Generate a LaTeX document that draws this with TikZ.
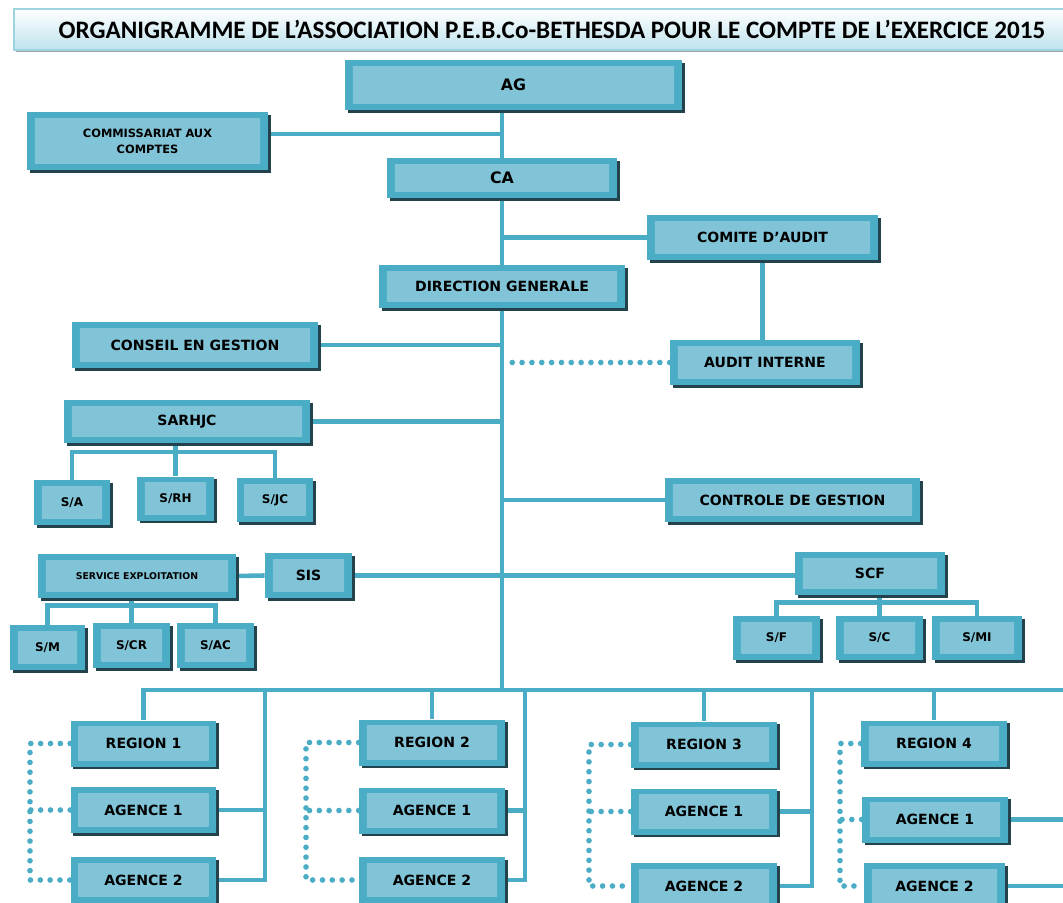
\documentclass[tikz,border=0pt]{standalone}
\usepackage{fontspec}
\setmainfont{Carlito}
\newfontfamily\boxfont{DejaVu Sans}
\usepackage{tikz}
\usetikzlibrary{shadows,backgrounds}

\definecolor{boxblue}{HTML}{4BACC6}
\definecolor{boxlight}{HTML}{82C4D7}
\definecolor{shadowc}{HTML}{23424B}
\definecolor{titleedge}{HTML}{9ED3E2}
\definecolor{titlebot}{HTML}{BDE2EC}

\tikzset{
  box/.style = {fill=boxblue, align=center, inner sep=0pt,
    font=\boxfont\bfseries\fontsize{8}{9}\selectfont,
    drop shadow={shadow xshift=1.6pt, shadow yshift=-1.6pt, fill=shadowc, opacity=1},
    path picture={\shade[top color=boxlight, middle color=boxblue, bottom color=boxlight]
      ([xshift=4.5pt,yshift=-3.5pt]path picture bounding box.north west) rectangle
      ([xshift=-4.5pt,yshift=3.5pt]path picture bounding box.south east);}},
  small/.style = {box, minimum width=1.54cm, minimum height=0.88cm,
    font=\boxfont\bfseries\fontsize{6.8}{7}\selectfont},
  reg/.style = {box, minimum width=2.92cm, minimum height=0.92cm},
  titlebox/.style = {draw=titleedge, line width=0.8pt, top color=white, bottom color=titlebot,
    minimum width=21.22cm, minimum height=0.82cm, inner sep=0pt,
    font=\bfseries\fontsize{14.3}{16}\selectfont,
    drop shadow={shadow xshift=1pt, shadow yshift=-1pt, fill=black!35, opacity=1}},
  link/.style = {draw=boxblue, line width=2.6pt},
  dots/.style = {draw=boxblue, line width=3.2pt, line cap=round, dash pattern=on 0pt off 5.6pt}
}

\begin{document}
\begin{tikzpicture}[x=0.02cm, y=-0.02cm]
    \useasboundingbox (0,0) rectangle (1063,903);

    \node[titlebox] (T) at (544.5,29.5) {\hspace*{0.3cm}ORGANIGRAMME DE L’ASSOCIATION P.E.B.Co-BETHESDA POUR LE COMPTE DE L’EXERCICE 2015};

    % top of the chart
    \node[box, minimum width=6.74cm, minimum height=1cm, font=\boxfont\bfseries\fontsize{9}{10}\selectfont] (AG) at (513.5,85) {AG};
    \node[box, minimum width=4.82cm, minimum height=1.16cm, font=\boxfont\bfseries\fontsize{6.5}{9}\selectfont] (CAC) at (147.5,141) {COMMISSARIAT AUX\\COMPTES};
    \node[box, minimum width=4.6cm, minimum height=0.8cm, font=\boxfont\bfseries\fontsize{9}{10}\selectfont] (CA) at (502,178) {CA};
    \node[box, minimum width=4.62cm, minimum height=0.9cm] (CAU) at (762.5,237.5) {COMITE D’AUDIT};
    \node[box, minimum width=4.92cm, minimum height=0.86cm] (DG) at (502,286.5) {DIRECTION GENERALE};
    \node[box, minimum width=4.92cm, minimum height=0.92cm] (CG) at (195,345) {CONSEIL EN GESTION};
    \node[box, minimum width=3.8cm, minimum height=0.9cm] (AI) at (765,362.5) {AUDIT INTERNE};
    \node[box, minimum width=4.92cm, minimum height=0.86cm] (SAR) at (187,421.5) {SARHJC};
    \node[small, minimum width=1.52cm, minimum height=0.9cm] (SA) at (72,502.5) {S/A};
    \node[small] (SRH) at (175.5,498.5) {S/RH};
    \node[small] (SJC) at (275,500) {S/JC};
    \node[box, minimum width=5.1cm, minimum height=0.88cm] (CDG) at (792.5,500) {CONTROLE DE GESTION};

    % services
    \node[box, minimum width=3.96cm, minimum height=0.88cm, font=\boxfont\bfseries\fontsize{5.3}{6}\selectfont] (SE) at (137,576) {SERVICE EXPLOITATION};
    \node[box, minimum width=1.74cm, minimum height=0.9cm] (SIS) at (308.5,575.5) {SIS};
    \node[box, minimum width=3cm, minimum height=0.86cm] (SCF) at (870,573.5) {SCF};
    \node[small, minimum width=1.5cm, minimum height=0.9cm] (SM) at (47.5,647.5) {S/M};
    \node[small, minimum height=0.9cm] (SCR) at (131.5,645.5) {S/CR};
    \node[small, minimum height=0.9cm] (SAC) at (215.5,645.5) {S/AC};
    \node[small, minimum width=1.74cm] (SF) at (776.5,638) {S/F};
    \node[small, minimum width=1.74cm] (SC) at (879.5,638) {S/C};
    \node[small, minimum width=1.8cm] (SMI) at (977,638) {S/MI};

    % regions
    \node[reg] (R1) at (143.5,743.5) {REGION 1};
    \node[reg] (A11) at (143.5,810) {AGENCE 1};
    \node[reg] (A12) at (143.5,880) {AGENCE 2};
    \node[reg] (R2) at (432,742.5) {REGION 2};
    \node[reg] (A21) at (432,810.5) {AGENCE 1};
    \node[reg] (A22) at (432,880) {AGENCE 2};
    \node[reg] (R3) at (704,744.5) {REGION 3};
    \node[reg] (A31) at (704,811.5) {AGENCE 1};
    \node[reg] (A32) at (704,886) {AGENCE 2};
    \node[reg] (R4) at (934,743.5) {REGION 4};
    \node[reg] (A41) at (935,819.5) {AGENCE 1};
    \node[reg, minimum width=2.82cm] (A42) at (934.5,886) {AGENCE 2};

    \coordinate (bar) at (502,690);
    \coordinate (redge) at (1075,690);
    \coordinate (g1) at (265,690);
    \coordinate (g2) at (525,690);
    \coordinate (g3) at (812,690);
    \coordinate (d1) at (30,742);
    \coordinate (d2) at (306,742);
    \coordinate (d3) at (589,742);
    \coordinate (d4) at (840,742);

    \begin{scope}[on background layer]
    \draw[link] (AG.south -| bar) -- (bar);
    \draw[link] ([yshift=4pt]CAC.east) -- ([yshift=4pt]CAC.east -| bar);
    \draw[link] (CAU.west) -- (CAU.west -| bar);
    \draw[link] (CAU.south) -- (CAU.south |- AI.north);
    \draw[link] (CG.east) -- (CG.east -| bar);
    \draw[dots] (AI.west) -- ([xshift=4.5pt]AI.west -| bar);
    \draw[link] (SAR.east) -- (SAR.east -| bar);
    \draw[link] (SA.north) |- ([yshift=-5pt]SAR.south) -| (SJC.north);
    \draw[link] (SRH.north) -- (SRH.north |- SAR.south);
    \draw[link] (CDG.west) -- (CDG.west -| bar);
    \draw[link] (SE.east) -- (SIS.west);
    \draw[link] (SIS.east) -- (SIS.east -| SCF.west);
    \draw[link] (SM.north) |- ([yshift=-4pt]SE.south) -| (SAC.north);
    \draw[link] (SCR.north) -- (SCR.north |- SE.south);
    \draw[link] (SF.north) |- ([yshift=-4pt]SCF.south) -| (SMI.north);
    \draw[link] (SC.north) -- (SC.north |- SCF.south);

    % regions and agencies
    \draw[link] (R1.north) |- (redge);
    \draw[link] (R2.north) -- (R2.north |- bar);
    \draw[link] (R3.north) -- (R3.north |- bar);
    \draw[link] (R4.north) -- (R4.north |- bar);
    \draw[link] (g1) |- (A12.east);
    \draw[link] (A11.east) -- (A11.east -| g1);
    \draw[link] (g2) |- (A22.east);
    \draw[link] (A21.east) -- (A21.east -| g2);
    \draw[link] (g3) |- (A32.east);
    \draw[link] (A31.east) -- (A31.east -| g3);
    \draw[link] (A41.east) -- (A41.east -| redge);
    \draw[link] (A42.east) -- (A42.east -| redge);

    \draw[dots] (R1.west) -| (d1 |- A12.west) -- (A12.west);
    \draw[dots] (A11.west) -- (A11.west -| d1);
    \draw[dots] (R2.west) -| (d2 |- A22.west) -- (A22.west);
    \draw[dots] (A21.west) -- (A21.west -| d2);
    \draw[dots] (R3.west) -| (d3 |- A32.west) -- (A32.west);
    \draw[dots] (A31.west) -- (A31.west -| d3);
    \draw[dots] (R4.west) -| (d4 |- A42.west) -- (A42.west);
    \draw[dots] (A41.west) -- (A41.west -| d4);
    \end{scope}
\end{tikzpicture}
\end{document}
